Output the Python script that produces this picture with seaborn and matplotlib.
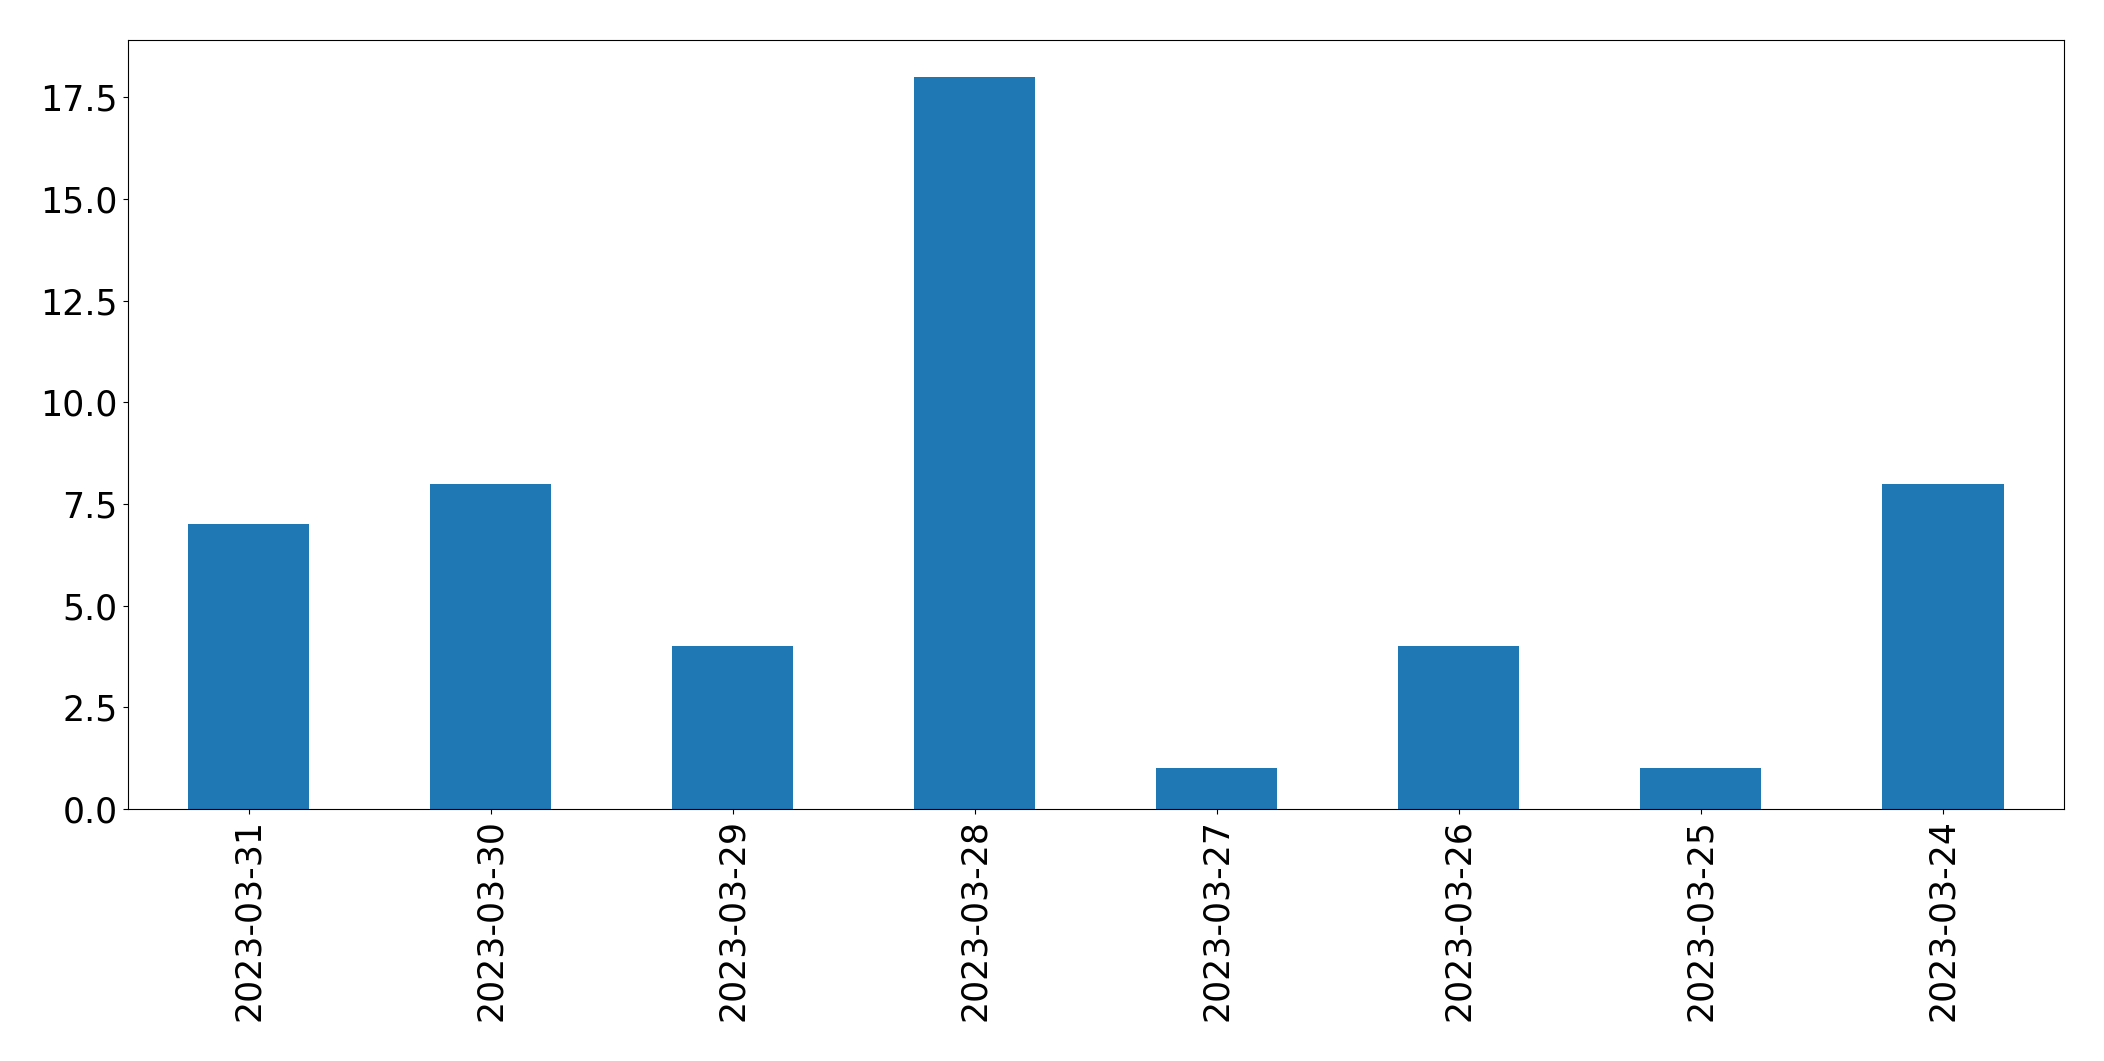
import matplotlib
matplotlib.use("Agg")
import matplotlib.pyplot as plt
import seaborn as sns
import pandas as pd

dates = ["2023-03-31", "2023-03-30", "2023-03-29", "2023-03-28",
         "2023-03-27", "2023-03-26", "2023-03-25", "2023-03-24"]
counts = [7, 8, 4, 18, 1, 4, 1, 8]

df = pd.DataFrame({"date": dates, "count": counts})

plt.rcParams['font.family'] = ['DejaVu Sans']
plt.rcParams['font.size'] = 25

fig = plt.figure(figsize=(21.04, 10.61), dpi=100)
ax = fig.add_axes([0.0606, 0.2375, 0.9204, 0.7245])
sns.barplot(data=df, x="date", y="count", color="#1f77b4", saturation=1,
            width=0.5, ax=ax, order=dates)
ax.set_xlim(-0.5, 7.5)
ax.set_ylim(0, 18.9)
ax.set_xlabel("")
ax.set_ylabel("")
ax.tick_params(axis='x', labelrotation=90, labelsize=25)
ax.tick_params(axis='y', labelsize=25)
fig.savefig("out.png", dpi=100)
